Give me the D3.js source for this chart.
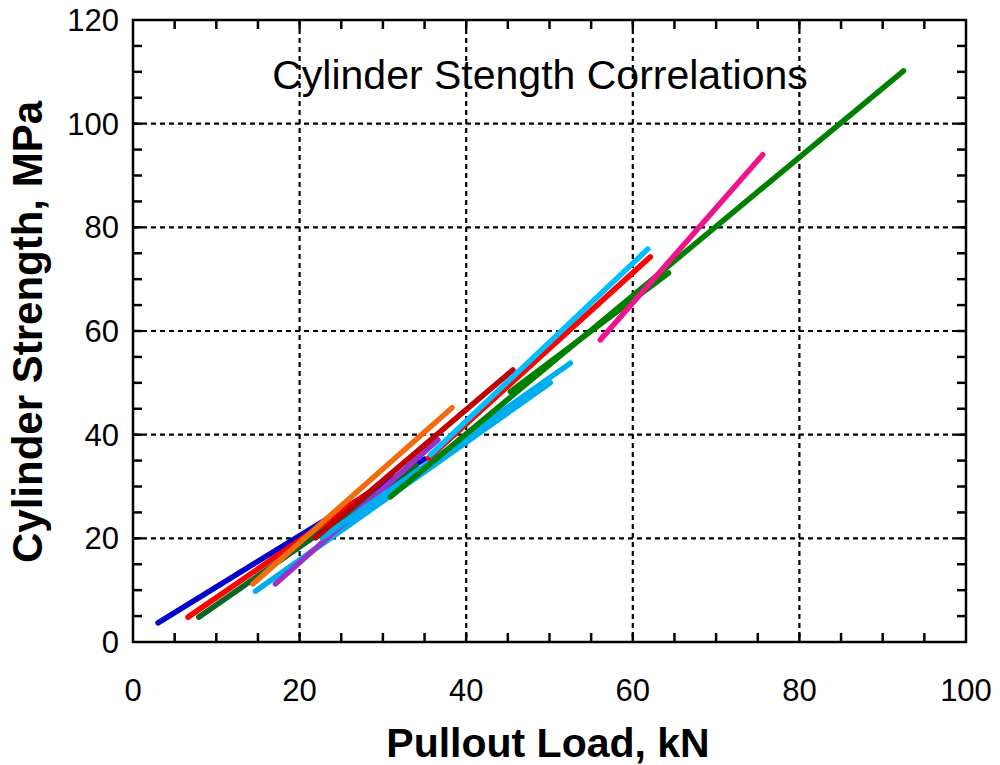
<!DOCTYPE html>
<html><head><meta charset="utf-8">
<script src="https://cdn.jsdelivr.net/npm/d3@7"></script>
<style>body{margin:0;background:#fff;} svg{display:block;font-family:"Liberation Sans",Arial,sans-serif;}</style>
</head><body>
<svg id="chart" width="1000" height="765"></svg>
<script>
// ---- data ----
const seriesNames = ["A","B","C","D","E","F","G","H","I","J","K","L","M"];
const xStart = [3.0, 6.6, 7.9, 14.7, 17.1, 14.4, 22.7, 21.9, 30.9, 45.3, 35.5, 35.7, 56.1];
const yStart = [3.7, 4.8, 4.8, 9.8, 11.2, 11.2, 20.1, 20.1, 28.0, 48.3, 35.5, 36.1, 58.3];
const xEnd   = [35.0, 28.0, 34.0, 50.1, 36.6, 38.3, 52.5, 45.6, 92.5, 64.3, 62.1, 61.8, 75.6];
const yEnd   = [35.3, 28.5, 34.0, 50.0, 39.0, 45.2, 53.8, 52.5, 110.2, 71.2, 74.3, 75.8, 94.0];
const colors = ["#0000cd","#ff0000","#0b6623","#00aeef","#9932cc","#f26c0d","#00aeef","#c00000","#008000","#008000","#ff0000","#00bfff","#f0148c"];
const xTicks = [0,20,40,60,80,100];
const yTicks = [0,20,40,60,80,100,120];
const titleText = "Cylinder Stength Correlations";
const xLabel = "Pullout Load, kN";
const yLabel = "Cylinder Strength, MPa";

// ---- layout ----
const L = 133, R = 966, T = 20, B = 642;
const svg = d3.select("#chart");
const x = d3.scaleLinear().domain([0,100]).range([L,R]);
const y = d3.scaleLinear().domain([0,120]).range([B,T]);

// grid
const grid = svg.append("g").attr("stroke","#000").attr("stroke-width",2.2).attr("stroke-dasharray","5,4");
grid.selectAll(".gx").data(xTicks.filter(d=>d>0&&d<100)).join("line")
  .attr("x1",d=>x(d)).attr("x2",d=>x(d)).attr("y1",T).attr("y2",B);
grid.selectAll(".gy").data(yTicks.filter(d=>d>0&&d<120)).join("line")
  .attr("y1",d=>y(d)).attr("y2",d=>y(d)).attr("x1",L).attr("x2",R);

// minor/major inward ticks on all four sides
const xMinor = d3.range(5,100,5);
const yMinor = d3.range(5,120,5);
const tk = svg.append("g").attr("stroke","#000").attr("stroke-width",2.5);
tk.selectAll(".tb").data(xMinor).join("line").attr("x1",d=>x(d)).attr("x2",d=>x(d)).attr("y1",B).attr("y2",B-9);
tk.selectAll(".tt").data(xMinor).join("line").attr("x1",d=>x(d)).attr("x2",d=>x(d)).attr("y1",T).attr("y2",T+9);
tk.selectAll(".tl").data(yMinor).join("line").attr("y1",d=>y(d)).attr("y2",d=>y(d)).attr("x1",L).attr("x2",L+9);
tk.selectAll(".tr").data(yMinor).join("line").attr("y1",d=>y(d)).attr("y2",d=>y(d)).attr("x1",R).attr("x2",R-9);

// lines
const lineGen = d3.line().x(d=>x(d[0])).y(d=>y(d[1]));
const segs = seriesNames.map((n,i)=>({name:n,color:colors[i],pts:[[xStart[i],yStart[i]],[xEnd[i],yEnd[i]]]}));
svg.append("g").selectAll("path").data(segs).join("path")
  .attr("d",d=>lineGen(d.pts)).attr("fill","none")
  .attr("stroke",d=>d.color).attr("stroke-width",5.5).attr("stroke-linecap","round");

// frame
svg.append("rect").attr("x",L).attr("y",T).attr("width",R-L).attr("height",B-T)
  .attr("fill","none").attr("stroke","#000").attr("stroke-width",2.5);

// tick labels
svg.append("g").selectAll("text").data(xTicks).join("text")
  .attr("x",d=>x(d)).attr("y",701).attr("text-anchor","middle")
  .attr("font-size",31).text(d=>d);
svg.append("g").selectAll("text").data(yTicks).join("text")
  .attr("x",119).attr("y",d=>y(d)+11).attr("text-anchor","end")
  .attr("font-size",31).text(d=>d);

// titles
svg.append("text").attr("x",540).attr("y",89).attr("text-anchor","middle")
  .attr("font-size",41).text(titleText);
svg.append("text").attr("x",548).attr("y",757).attr("text-anchor","middle")
  .attr("font-size",41).attr("font-weight","bold").text(xLabel);
svg.append("text").attr("transform","translate(42,332) rotate(-90)").attr("text-anchor","middle")
  .attr("font-size",42).attr("font-weight","bold").text(yLabel);
</script>
</body></html>
